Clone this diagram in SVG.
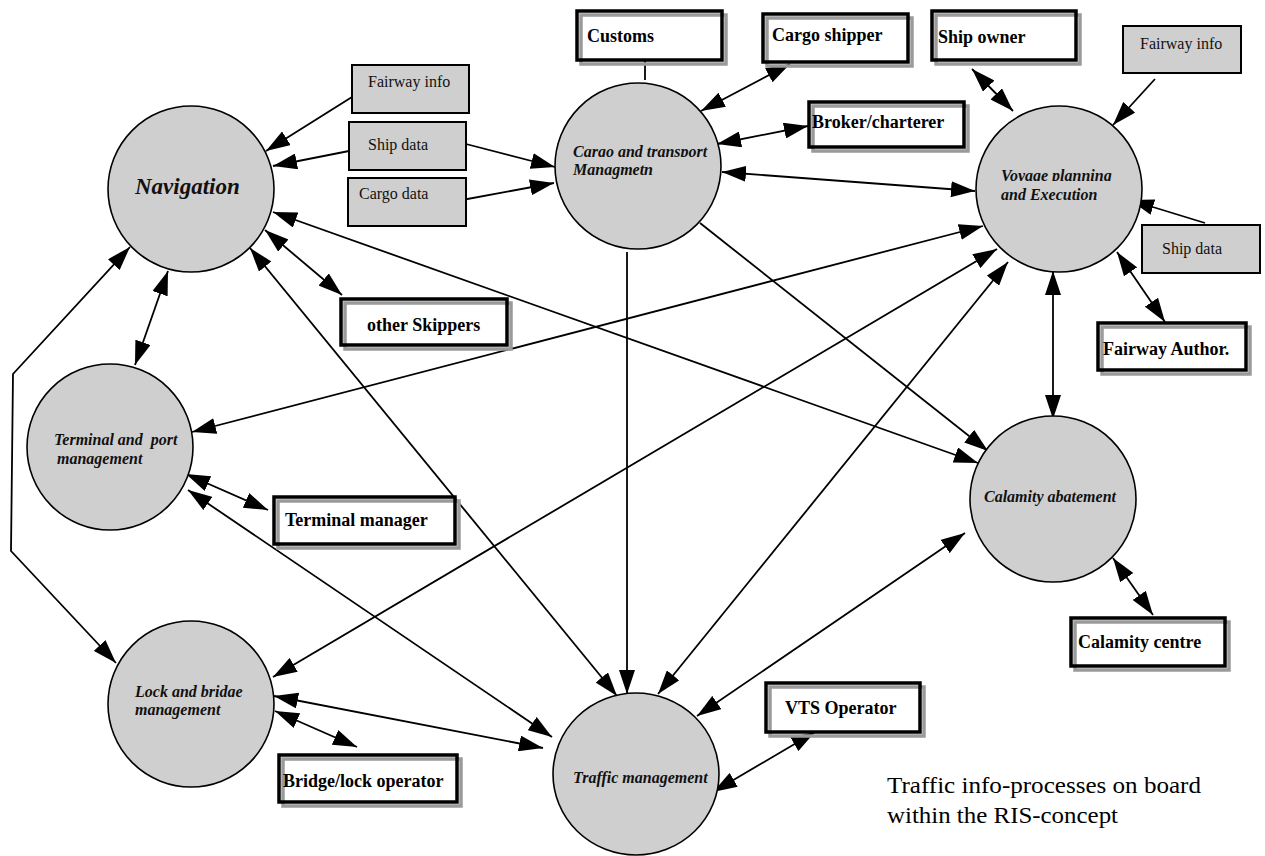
<svg xmlns="http://www.w3.org/2000/svg" width="1265" height="856" viewBox="0 0 1265 856">
  <style>
    .proc { fill: #cfcfcf; stroke: #000; stroke-width: 1.6; }
    .data { fill: #cfcfcf; stroke: #000; stroke-width: 2; }
    .pbg { fill: #fff; stroke: none; }
    .psh { fill: none; stroke: #9a9a9a; stroke-width: 3.5; }
    .pfr { fill: none; stroke: #000; stroke-width: 3.5; }
    .lbl { font-family: "Liberation Serif", "Times New Roman", serif; font-weight: bold; font-size: 18px; fill: #000; }
    .dtx { font-family: "Liberation Serif", "Times New Roman", serif; font-size: 16px; fill: #111; }
    .ptx { font-family: "Liberation Serif", "Times New Roman", serif; font-weight: bold; font-style: italic; font-size: 16px; fill: #111; }
    .cap { font-family: "Liberation Serif", "Times New Roman", serif; font-size: 24px; fill: #000; }
    .ln { fill: none; stroke: #000; stroke-width: 1.8; }
    .one { marker-end: url(#ah); }
    .two { marker-start: url(#ah); marker-end: url(#ah); }
  </style>
  <defs>
    <marker id="ah" viewBox="0 0 24 16" refX="24" refY="8" markerWidth="24" markerHeight="16" markerUnits="userSpaceOnUse" orient="auto-start-reverse">
      <path d="M0,0 L24,8 L0,16 z" fill="#000"/>
    </marker>
    <clipPath id="cutCargo"><rect x="540" y="130" width="200" height="27"/></clipPath>
    <clipPath id="cutVoyage"><rect x="980" y="150" width="160" height="31"/></clipPath>
    <clipPath id="cutLock"><rect x="110" y="670" width="160" height="27"/></clipPath>
  </defs>
  <rect width="1265" height="856" fill="#fff"/>

  <!-- connectors -->
  <g id="connectors">
    <line class="ln one" x1="352" y1="97" x2="266" y2="151"/>
    <line class="ln one" x1="349" y1="151" x2="273" y2="166"/>
    <line class="ln one" x1="466" y1="144" x2="555" y2="167"/>
    <line class="ln one" x1="462" y1="200" x2="554" y2="183"/>
    <line class="ln" x1="645" y1="60" x2="645" y2="80"/>
    <line class="ln two" x1="790" y1="64" x2="701" y2="111"/>
    <line class="ln two" x1="808" y1="126" x2="717" y2="144"/>
    <line class="ln two" x1="975" y1="191" x2="722" y2="172"/>
    <line class="ln two" x1="972" y1="69" x2="1013" y2="111"/>
    <line class="ln one" x1="1155" y1="79" x2="1113" y2="125"/>
    <line class="ln one" x1="1205" y1="223" x2="1130" y2="200"/>
    <line class="ln two" x1="1117" y1="252" x2="1165" y2="322"/>
    <line class="ln two" x1="1053" y1="271" x2="1053" y2="419"/>
    <line class="ln two" x1="1113" y1="558" x2="1153" y2="615"/>
    <line class="ln two" x1="168" y1="271" x2="135" y2="365"/>
    <polyline class="ln two" points="130,247 13,374 11,551 116,663"/>
    <line class="ln two" x1="250" y1="248" x2="617" y2="696"/>
    <line class="ln two" x1="265" y1="230" x2="342" y2="295"/>
    <line class="ln two" x1="273" y1="212" x2="978" y2="463"/>
    <line class="ln one" x1="700" y1="223" x2="988" y2="451"/>
    <line class="ln one" x1="627" y1="252" x2="627" y2="694"/>
    <line class="ln two" x1="192" y1="432" x2="983" y2="226"/>
    <line class="ln two" x1="273" y1="677" x2="997" y2="249"/>
    <line class="ln two" x1="658" y1="694" x2="1008" y2="262"/>
    <line class="ln two" x1="697" y1="716" x2="965" y2="533"/>
    <line class="ln two" x1="186" y1="474" x2="268" y2="510"/>
    <line class="ln two" x1="188" y1="490" x2="552" y2="737"/>
    <line class="ln two" x1="275" y1="711" x2="357" y2="747"/>
    <line class="ln two" x1="274" y1="696" x2="543" y2="748"/>
    <line class="ln two" x1="815" y1="732" x2="713" y2="792"/>
  </g>

  <!-- process circles -->
  <g id="navigation">
    <circle class="proc" cx="191" cy="189" r="83"/>
    <text class="ptx" x="135" y="194" style="font-size:23px">Navigation</text>
  </g>
  <g id="cargo-transport">
    <circle class="proc" cx="638" cy="166" r="83"/>
    <text class="ptx" x="573" y="157" clip-path="url(#cutCargo)">Cargo and transport</text>
    <text class="ptx" x="573" y="175">Managmetn</text>
  </g>
  <g id="voyage-planning">
    <circle class="proc" cx="1059" cy="189" r="83"/>
    <text class="ptx" x="1001" y="181" clip-path="url(#cutVoyage)">Voyage planning</text>
    <text class="ptx" x="1001" y="200">and Execution</text>
  </g>
  <g id="terminal-port">
    <circle class="proc" cx="110" cy="447" r="83"/>
    <text class="ptx" x="54" y="445" xml:space="preserve">Terminal and  port</text>
    <text class="ptx" x="57" y="464">management</text>
  </g>
  <g id="calamity-abatement">
    <circle class="proc" cx="1053" cy="499" r="83"/>
    <text class="ptx" x="984" y="502">Calamity abatement</text>
  </g>
  <g id="lock-bridge">
    <circle class="proc" cx="191" cy="704" r="83"/>
    <text class="ptx" x="135" y="697" clip-path="url(#cutLock)">Lock and bridge</text>
    <text class="ptx" x="135" y="715">management</text>
  </g>
  <g id="traffic-management">
    <ellipse class="proc" cx="636" cy="774" rx="83" ry="81"/>
    <text class="ptx" x="573" y="783">Traffic management</text>
  </g>

  <!-- data sources -->
  <g id="fairway-info-left">
    <rect class="data" x="352" y="65" width="117" height="48"/>
    <text class="dtx" x="368" y="87">Fairway info</text>
  </g>
  <g id="ship-data-left">
    <rect class="data" x="349" y="122" width="117" height="48"/>
    <text class="dtx" x="368" y="150">Ship data</text>
  </g>
  <g id="cargo-data">
    <rect class="data" x="348" y="178" width="118" height="48"/>
    <text class="dtx" x="359" y="199">Cargo data</text>
  </g>
  <g id="fairway-info-right">
    <rect class="data" x="1123" y="26" width="118" height="47"/>
    <text class="dtx" x="1140" y="49">Fairway info</text>
  </g>
  <g id="ship-data-right">
    <rect class="data" x="1142" y="225" width="118" height="48"/>
    <text class="dtx" x="1162" y="254">Ship data</text>
  </g>

  <!-- parties -->
  <g id="customs">
    <rect class="pbg" x="577" y="11" width="145" height="49"/>
    <rect class="psh" x="581" y="15" width="145" height="49"/>
    <rect class="pfr" x="577" y="11" width="145" height="49"/>
    <text class="lbl" x="587" y="42">Customs</text>
  </g>
  <g id="cargo-shipper">
    <rect class="pbg" x="763" y="14" width="145" height="48"/>
    <rect class="psh" x="767" y="18" width="145" height="48"/>
    <rect class="pfr" x="763" y="14" width="145" height="48"/>
    <text class="lbl" x="772" y="41">Cargo shipper</text>
  </g>
  <g id="broker-charterer">
    <rect class="pbg" x="809" y="102" width="155" height="45"/>
    <rect class="psh" x="813" y="106" width="155" height="45"/>
    <rect class="pfr" x="809" y="102" width="155" height="45"/>
    <text class="lbl" x="812" y="128">Broker/charterer</text>
  </g>
  <g id="ship-owner">
    <rect class="pbg" x="932" y="11" width="144" height="49"/>
    <rect class="psh" x="936" y="15" width="144" height="49"/>
    <rect class="pfr" x="932" y="11" width="144" height="49"/>
    <text class="lbl" x="938" y="43">Ship owner</text>
  </g>
  <g id="fairway-author">
    <rect class="pbg" x="1098" y="323" width="148" height="47"/>
    <rect class="psh" x="1102" y="327" width="148" height="47"/>
    <rect class="pfr" x="1098" y="323" width="148" height="47"/>
    <text class="lbl" x="1103" y="355">Fairway Author.</text>
  </g>
  <g id="other-skippers">
    <rect class="pbg" x="341" y="299" width="166" height="46"/>
    <rect class="psh" x="345" y="303" width="166" height="46"/>
    <rect class="pfr" x="341" y="299" width="166" height="46"/>
    <text class="lbl" x="367" y="331">other Skippers</text>
  </g>
  <g id="terminal-manager">
    <rect class="pbg" x="274" y="497" width="181" height="47"/>
    <rect class="psh" x="278" y="501" width="181" height="47"/>
    <rect class="pfr" x="274" y="497" width="181" height="47"/>
    <text class="lbl" x="285" y="526">Terminal manager</text>
  </g>
  <g id="calamity-centre">
    <rect class="pbg" x="1071" y="618" width="154" height="48"/>
    <rect class="psh" x="1075" y="622" width="154" height="48"/>
    <rect class="pfr" x="1071" y="618" width="154" height="48"/>
    <text class="lbl" x="1078" y="648">Calamity centre</text>
  </g>
  <g id="bridge-lock-operator">
    <rect class="pbg" x="279" y="755" width="178" height="47"/>
    <rect class="psh" x="283" y="759" width="178" height="47"/>
    <rect class="pfr" x="279" y="755" width="178" height="47"/>
    <text class="lbl" x="283" y="787">Bridge/lock operator</text>
  </g>
  <g id="vts-operator">
    <rect class="pbg" x="766" y="683" width="154" height="49"/>
    <rect class="psh" x="770" y="687" width="154" height="49"/>
    <rect class="pfr" x="766" y="683" width="154" height="49"/>
    <text class="lbl" x="785" y="714">VTS Operator</text>
  </g>

  <!-- caption -->
  <g id="caption">
    <text class="cap" x="887" y="793" textLength="314" lengthAdjust="spacingAndGlyphs">Traffic info-processes on board</text>
    <text class="cap" x="887" y="823" textLength="231" lengthAdjust="spacingAndGlyphs">within the RIS-concept</text>
  </g>
</svg>
